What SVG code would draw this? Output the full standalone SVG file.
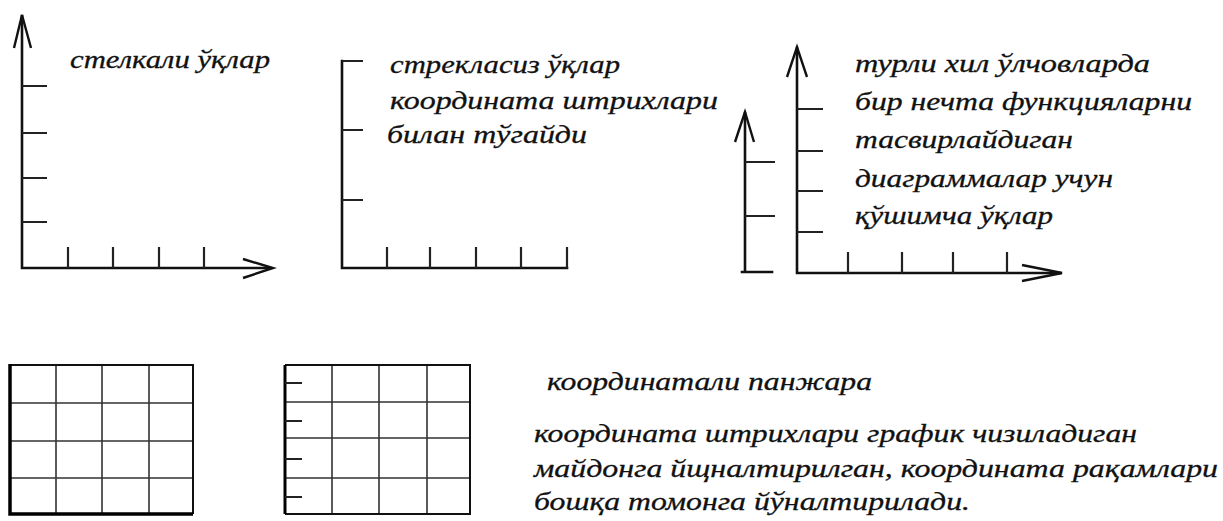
<svg xmlns="http://www.w3.org/2000/svg" width="1223" height="521" viewBox="0 0 1223 521">
<style>
.ax{stroke:#111;stroke-width:2.6;fill:none;stroke-linecap:square}
.tk{stroke:#222;stroke-width:2.2;fill:none}
.ah{stroke:#111;stroke-width:2.4;fill:none;stroke-linejoin:miter}
.gl{stroke:#333;stroke-width:1.6;fill:none}
text{font-family:"Liberation Serif","DejaVu Serif",serif;font-style:italic;fill:#111;stroke:#111;stroke-width:0.3}
.t{font-size:26px}
.b{font-size:26px}
</style>
<rect width="1223" height="521" fill="#fff"/>
<g id="panel1">
<path class="ax" d="M22,16V268H270"/>
<polyline class="ah" points="14,48 22,15 31,48"/>
<polyline class="ah" points="243,259 273,268 243,278"/>
<path class="tk" d="M22,86H47M22,133H47M22,178H47M22,222H47M68,247V268M113,247V268M159,247V268M204,247V268"/>
<text class="t" x="70" y="68" textLength="200" lengthAdjust="spacingAndGlyphs">стелкали ўқлар</text>
</g>
<g id="panel2">
<path class="ax" d="M342,61V268H567"/>
<path class="tk" d="M342,61H363M342,130H363M342,200H363M387,247V268M430,247V268M476,247V268M521,247V268M567,247V268"/>
<text class="t" x="390" y="73" textLength="230" lengthAdjust="spacingAndGlyphs">стрекласиз ўқлар</text>
<text class="t" x="390" y="109" textLength="328" lengthAdjust="spacingAndGlyphs">координата штрихлари</text>
<text class="t" x="387" y="143" textLength="200" lengthAdjust="spacingAndGlyphs">билан тўгайди</text>
</g>
<g id="panel3">
<path class="ax" d="M745,113V272M742,272H772"/>
<polyline class="ah" points="735,142 745,112 754,142"/>
<path class="tk" d="M745,162H775M745,216H775"/>
<path class="ax" d="M797,48V273H1060"/>
<polyline class="ah" points="787,77 797,47 807,77"/>
<polyline class="ah" points="1022,265 1062,273 1022,281"/>
<path class="tk" d="M797,109H823M797,151H823M797,191H823M797,232H823M848,252V273M902,252V273M953,252V273M1007,252V273"/>
<text class="t" x="855" y="72" textLength="295" lengthAdjust="spacingAndGlyphs">турли хил ўлчовларда</text>
<text class="t" x="855" y="110" textLength="337" lengthAdjust="spacingAndGlyphs">бир нечта функцияларни</text>
<text class="t" x="855" y="148" textLength="218" lengthAdjust="spacingAndGlyphs">тасвирлайдиган</text>
<text class="t" x="855" y="187" textLength="258" lengthAdjust="spacingAndGlyphs">диаграммалар учун</text>
<text class="t" x="855" y="224" textLength="198" lengthAdjust="spacingAndGlyphs">қўшимча ўқлар</text>
</g>
<g id="grid1">
<path class="gl" d="M56,365V514M102,365V514M149,365V514M10,403H193M10,441H193M10,478H193"/>
<path stroke="#111" stroke-width="2" fill="none" d="M10,365H193V514"/>
<path stroke="#000" stroke-width="3.5" fill="none" d="M10,364V514H193"/>
</g>
<g id="grid2">
<path class="gl" d="M332,365V514M379,365V514M427,365V514M285,402H470M285,438H470M285,478H470"/>
<path stroke="#111" stroke-width="2" fill="none" d="M285,365H470V514H285"/>
<path stroke="#000" stroke-width="3" fill="none" d="M285,365V514"/>
<path class="tk" d="M285,383H302M285,421H302M285,459H302M285,497H302"/>
</g>
<g id="caption">
<text class="b" x="547" y="390" textLength="325" lengthAdjust="spacingAndGlyphs">координатали панжара</text>
<text class="b" x="534" y="442" textLength="603" lengthAdjust="spacingAndGlyphs">координата штрихлари график чизиладиган</text>
<text class="b" x="534" y="477" textLength="684" lengthAdjust="spacingAndGlyphs">майдонга йщналтирилган, координата рақамлари</text>
<text class="b" x="534" y="510" textLength="436" lengthAdjust="spacingAndGlyphs">бошқа томонга йўналтирилади.</text>
</g>
</svg>
